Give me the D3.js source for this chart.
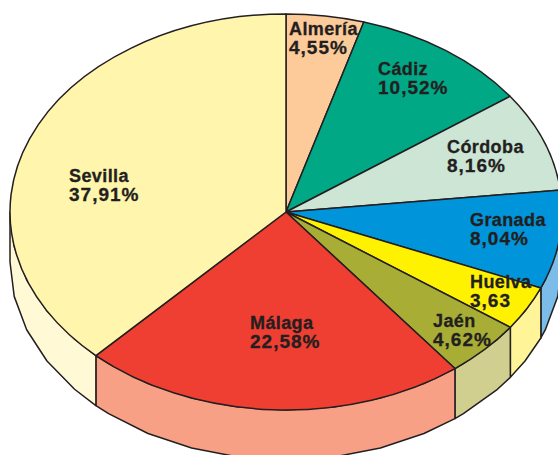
<!DOCTYPE html>
<html>
<head>
<meta charset="utf-8">
<style>
  html, body { margin: 0; padding: 0; background: #fff; }
  svg { display: block; }
  text { font-family: "Liberation Sans", sans-serif; font-weight: 700; font-size: 18px; fill: #231f20; stroke: #231f20; stroke-width: .3px; letter-spacing: .4px; }
  .pct { font-size: 19px; letter-spacing: 1px; }
</style>
</head>
<body>
<svg width="558" height="455"></svg>
<script src="https://d3js.org/d3.v7.min.js"></script>
<script>
var provincias = ["Almería", "Cádiz", "Córdoba", "Granada", "Huelva", "Jaén", "Málaga", "Sevilla"];
var valores = [4.55, 10.52, 8.16, 8.04, 3.63, 4.62, 22.58, 37.91];
var etiquetas = ["4,55%", "10,52%", "8,16%", "8,04%", "3,63", "4,62%", "22,58%", "37,91%"];

var colorTapa = ["#fdcb9a", "#00a886", "#cce5d5", "#0095da", "#fff200", "#a8ad35", "#ef3e32", "#fff5ac"];
var colorLado = ["#fdcb9a", "#00a886", "#cce5d5", "#7bbde8", "#fff598", "#d0cf90", "#f7a085", "#fffad5"];

// esquina izquierda del texto, primera linea
var posTexto = [[289, 35], [378, 75], [447, 153], [470, 226], [470, 288], [433, 327], [250, 329], [69, 182]];

var cx = 286, cy = 212, rx = 276, ry = 198, grosor = 50, tinta = "#231f20";

var svg = d3.select("svg");
var sx = d3.scaleLinear().domain([-1, 1]).range([cx - rx, cx + rx]);
var sy = d3.scaleLinear().domain([-1, 1]).range([cy - ry, cy + ry]);

var arcos = d3.pie().sort(null).value(function(d) { return d; })(valores);

// lado visible: solo la mitad de abajo de la elipse (90 a 270 grados)
function lado(d) {
  var a0 = Math.max(d.startAngle, Math.PI / 2), a1 = Math.min(d.endAngle, Math.PI * 1.5);
  if (a1 <= a0) return null;
  var paso = Math.PI / 18, angs = [a0];
  for (var a = Math.ceil(a0 / paso) * paso; a < a1; a += paso) if (a > a0) angs.push(a);
  angs.push(a1);
  var arriba = angs.map(function(a) { return [sx(Math.sin(a)), sy(-Math.cos(a))]; });
  var abajo = arriba.map(function(p) { return [p[0], p[1] + grosor]; }).reverse();
  return d3.line()(arriba.concat(abajo)) + "Z";
}

svg.append("g").selectAll("path").data(arcos).enter().append("path")
    .attr("d", lado)
    .attr("fill", function(d) { return colorLado[d.index]; })
    .attr("stroke", tinta)
    .attr("stroke-width", 1.5)
    .attr("stroke-linejoin", "round");

// la tapa es un arco circular aplastado
var arco = d3.arc().innerRadius(0).outerRadius(rx);
svg.append("g")
    .attr("transform", "translate(" + cx + "," + cy + ") scale(1," + ry / rx + ")")
  .selectAll("path").data(arcos).enter().append("path")
    .attr("d", arco)
    .attr("fill", function(d) { return colorTapa[d.index]; })
    .attr("stroke", tinta)
    .attr("stroke-width", 1.5)
    .attr("stroke-linejoin", "round")
    .attr("vector-effect", "non-scaling-stroke");

var txt = svg.append("g").selectAll("text").data(provincias).enter().append("text")
    .attr("x", function(d, i) { return posTexto[i][0]; })
    .attr("y", function(d, i) { return posTexto[i][1]; });
txt.append("tspan").text(function(d) { return d; });
txt.append("tspan")
    .attr("class", "pct")
    .attr("x", function(d, i) { return posTexto[i][0]; })
    .attr("dy", 19)
    .text(function(d, i) { return etiquetas[i]; });
</script>
</body>
</html>
